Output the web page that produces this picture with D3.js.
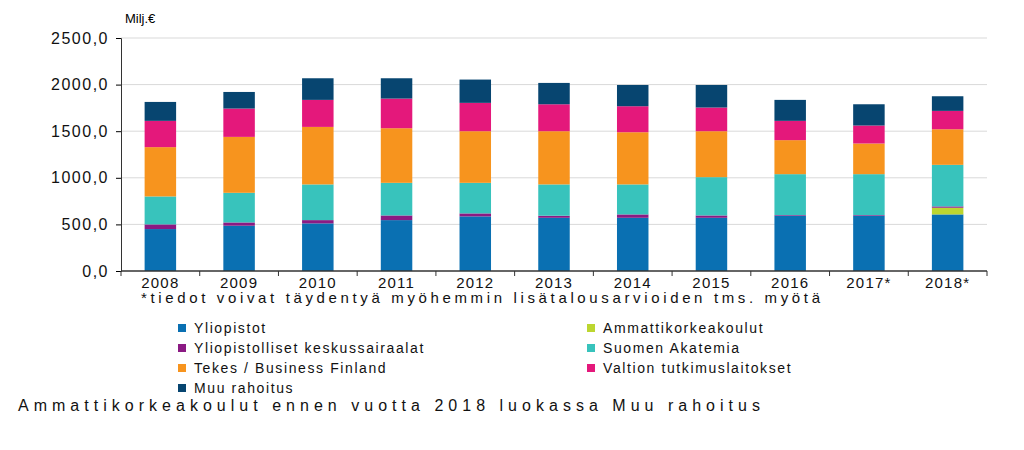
<!DOCTYPE html><html><head><meta charset="utf-8"><script src="https://d3js.org/d3.v7.min.js"></script>
<style>body{margin:0;background:#fff}text{font-family:"Liberation Sans",Arial,sans-serif}</style></head><body><svg width="1024" height="450"></svg>
<script>
const years=["2008","2009","2010","2011","2012","2013","2014","2015","2016","2017*","2018*"];
const yliopistot=[450,486,511,546,586,571,571,571,593,593,607];
const ammatti=[0,0,0,0,0,0,0,0,0,0,72];
const sairaalat=[50,35,35,50,32,22,36,25,7,7,14];
const akatemia=[300,318,383,350,328,336,322,411,439,439,446];
const tekes=[529,600,617,586,554,571,560,493,365,329,382];
const valtion=[282,304,290,318,304,289,279,254,207,193,197];
const muu=[203,178,232,218,250,229,228,242,225,228,157];
const yTicks=[0,500,1000,1500,2000,2500];
const series=[
 {name:"Yliopistot",v:yliopistot,c:"#0a70b2"},
 {name:"Ammattikorkeakoulut",v:ammatti,c:"#bcd630"},
 {name:"Yliopistolliset keskussairaalat",v:sairaalat,c:"#8b1a83"},
 {name:"Suomen Akatemia",v:akatemia,c:"#38c3bc"},
 {name:"Tekes / Business Finland",v:tekes,c:"#f7941e"},
 {name:"Valtion tutkimuslaitokset",v:valtion,c:"#e4187b"},
 {name:"Muu rahoitus",v:muu,c:"#074570"}];
const svg=d3.select("svg");
const x=d3.scaleBand().domain(years).range([121,987]).paddingInner(0.6).paddingOuter(0.3);
const y=d3.scaleLinear().domain([0,2500]).range([271,38]);
svg.append("g").selectAll("line").data(yTicks.slice(1)).join("line").attr("x1",121).attr("x2",987).attr("y1",d=>y(d)).attr("y2",d=>y(d)).attr("stroke","#d9d9d9");
const data=years.map((yr,i)=>{const o={yr};series.forEach(s=>o[s.name]=s.v[i]);return o;});
const st=d3.stack().keys(series.map(s=>s.name))(data);
st.forEach((layer,k)=>{svg.append("g").attr("fill",series[k].c).selectAll("rect").data(layer).join("rect")
 .attr("x",d=>x(d.data.yr)).attr("width",x.bandwidth()).attr("y",d=>y(d[1])).attr("height",d=>y(d[0])-y(d[1]));});
const ya=svg.append("g").attr("transform","translate(121,0)").call(d3.axisLeft(y).tickValues(yTicks).tickFormat(d=>d3.format(".1f")(d).replace(".",",")).tickSize(5));
ya.select(".domain").attr("stroke","#333");
ya.selectAll("text").attr("font-size",16).attr("fill","#111").attr("dx",-4).attr("letter-spacing",1.5);
const step=x.step();
const xa=svg.append("g").attr("transform","translate(0,271)");
xa.append("line").attr("x1",121).attr("x2",987).attr("stroke","#333").attr("stroke-width",1.5);
xa.selectAll(".tk").data(d3.range(12)).join("line").attr("x1",d=>121+d*step).attr("x2",d=>121+d*step).attr("y1",0).attr("y2",5).attr("stroke","#333");
xa.selectAll("text").data(years).join("text").attr("x",d=>x(d)+x.bandwidth()/2).attr("y",17).attr("text-anchor","middle").attr("font-size",15).attr("letter-spacing",1.2).attr("fill","#111").text(d=>d);
svg.append("text").attr("x",125).attr("y",23).attr("font-size",13).text("Milj.€");
svg.append("text").attr("x",141).attr("y",303).attr("font-size",15).attr("fill","#111").attr("textLength",679).attr("lengthAdjust","spacing").text("*tiedot voivat täydentyä myöhemmin lisätalousarvioiden tms. myötä");
const lpos=[[0,0],[1,0],[0,1],[1,1],[0,2],[1,2],[0,3]];
const lg=svg.append("g");
series.forEach((s,i)=>{const [c,r]=lpos[i];const gx=c?587:178,gy=329+r*20;
 lg.append("rect").attr("x",gx).attr("y",gy-5).attr("width",8).attr("height",8).attr("fill",s.c);
 lg.append("text").attr("x",gx+16).attr("y",gy+4).attr("font-size",14).attr("letter-spacing",1.6).attr("fill","#111").text(s.name);});
svg.append("text").attr("x",18).attr("y",411).attr("font-size",16).attr("fill","#111").attr("textLength",742).attr("lengthAdjust","spacing").text("Ammattikorkeakoulut ennen vuotta 2018 luokassa Muu rahoitus");
</script></body></html>
